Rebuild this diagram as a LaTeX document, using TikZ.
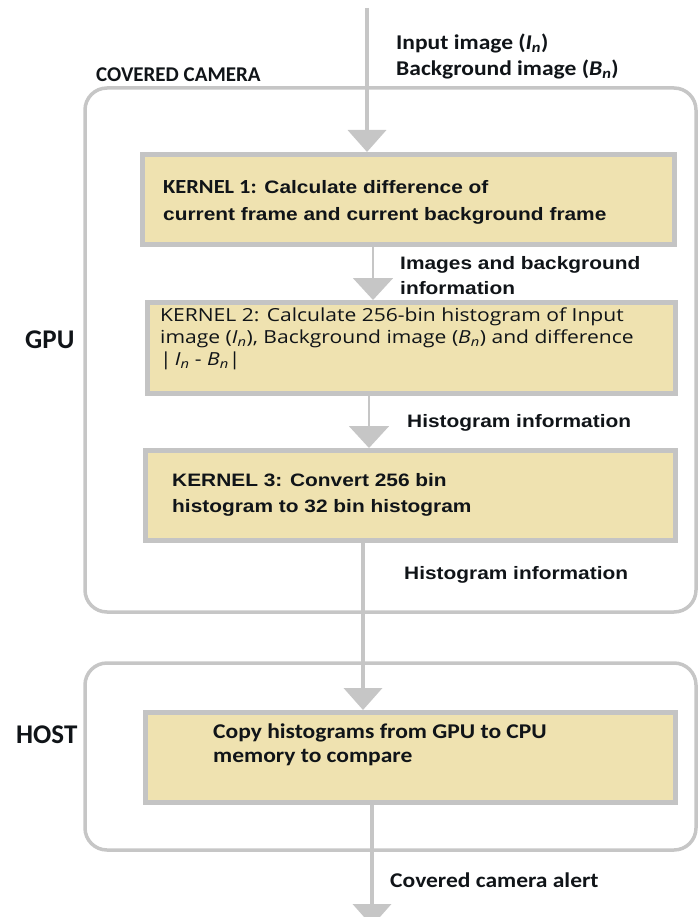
\documentclass[tikz,border=0pt]{standalone}
\usepackage{fontspec}
\usetikzlibrary{arrows.meta}
\setmainfont{Liberation Sans}
\newfontfamily\calfont{Carlito}
\newfontfamily\calwide[FakeStretch=1.12]{Carlito}
\newfontfamily\arwide[FakeStretch=1.16]{Liberation Sans}
\newfontfamily\opwide[FakeStretch=1.17]{Open Sans}
\definecolor{linegray}{HTML}{C6C6C6}
\definecolor{boxline}{HTML}{C4C4C4}
\definecolor{boxfill}{HTML}{EFE2B0}
\definecolor{inkdark}{HTML}{101418}
\tikzset{
  frame/.style={draw=linegray, line width=3.5pt, rounded corners=22pt},
  kbox/.style={draw=boxline, fill=boxfill, line width=5pt, inner sep=0pt, rectangle},
  flow/.style={draw=linegray, line width=4pt, -{Triangle[width=38pt,length=22pt]}},
  thinflow/.style={draw=linegray, line width=2pt, -{Triangle[width=40pt,length=22pt]}},
  lbl/.style={inner sep=0pt, anchor=west, align=left, text=inkdark},
}
\begin{document}
\begin{tikzpicture}[x=1pt,y=-1pt]
\useasboundingbox (0,0) rectangle (699,917);

% group frames
\draw[frame] (85,88) rectangle (696,612);
\draw[frame] (85,663) rectangle (696,850);

% processing boxes
\node[kbox, minimum width=532pt, minimum height=90pt] (k1) at (408.5,199.5) {};
\node[kbox, minimum width=528pt, minimum height=91pt] (k2) at (411.5,348) {};
\node[kbox, minimum width=530pt, minimum height=90pt] (k3) at (410.5,495.5) {};
\node[kbox, minimum width=530pt, minimum height=90pt] (cp) at (410.5,757.5) {};

% flow of data
\coordinate (src) at (367,8);
\draw[flow] (src) -- (src |- k1.north);
\draw[thinflow] ([xshift=-35.5pt]k1.south) -- ([xshift=-35.5pt]k1.south |- k2.north);
\draw[thinflow] ([xshift=-42.5pt]k2.south) -- ([xshift=-42.5pt]k2.south |- k3.north);
\draw[flow] ([xshift=-47.5pt]k3.south) -- ([xshift=-47.5pt]k3.south |- cp.north);
\coordinate (sink) at ([xshift=-38.5pt]cp.south |- 0,926);
\draw[flow] ([xshift=-38.5pt]cp.south) -- (sink);

% labels
\node[lbl, font=\calfont\bfseries\fontsize{21}{26}\selectfont] (cc) at (96,75) {COVERED CAMERA};
\node[lbl, font=\calwide\bfseries\fontsize{21}{26}\selectfont] (inl) at (396,56)
  {Input image ({\itshape I\textsubscript{n}})\\Background image ({\itshape B\textsubscript{n}})};
\node[lbl, font=\calfont\bfseries\fontsize{27}{30}\selectfont] (gpu) at (25,340) {GPU};
\node[lbl, font=\calfont\bfseries\fontsize{27}{30}\selectfont] (host) at (16,735) {HOST};

\node[lbl, font=\arwide\bfseries\fontsize{18}{27}\selectfont] (t1) at (163,202)
  {{\calwide\fontsize{20}{27}\selectfont KERNEL 1:} Calculate difference of\\current frame and current background frame};
\node[lbl, font=\arwide\bfseries\fontsize{18}{25}\selectfont] (l1) at (400,276)
  {Images and background\\information};
\node[lbl, font=\opwide\fontsize{18}{22}\selectfont] (t2) at (160,339)
  {KERNEL 2: Calculate 256-bin histogram of Input\\
   image ({\itshape I\textsubscript{n}}), Background image ({\itshape B\textsubscript{n}}) and difference\\
   |\,{\itshape I\textsubscript{n}} - {\itshape B\textsubscript{n}}|};
\node[lbl, font=\arwide\bfseries\fontsize{18}{25}\selectfont] (l2) at (407,423) {Histogram information};
\node[lbl, font=\arwide\bfseries\fontsize{18}{26}\selectfont] (t3) at (172,495)
  {KERNEL 3: Convert 256 bin\\histogram to 32 bin histogram};
\node[lbl, font=\arwide\bfseries\fontsize{18}{25}\selectfont] (l3) at (404,575) {Histogram information};
\node[lbl, font=\calwide\bfseries\fontsize{21}{24}\selectfont] (t4) at (213,745)
  {Copy histograms from GPU to CPU\\memory to compare};
\node[lbl, font=\calwide\bfseries\fontsize{21}{24}\selectfont] (l4) at (390,880) {Covered camera alert};
\end{tikzpicture}
\end{document}
